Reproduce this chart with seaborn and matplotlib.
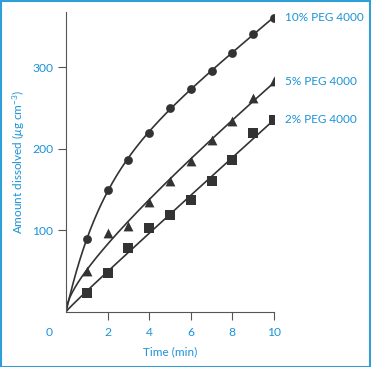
import matplotlib
matplotlib.use('Agg')
import matplotlib.pyplot as plt
import numpy as np
import pandas as pd
import seaborn as sns

time_min = [1, 2, 3, 4, 5, 6, 7, 8, 9, 10]
peg10 = [89, 150, 187, 220, 250, 274, 296, 318, 341, 361]
peg5 = [50, 97, 106, 135, 161, 185, 211, 234, 262, 283]
peg2 = [23, 48, 79, 103, 119, 137, 161, 186, 220, 236]
series_names = ['10% PEG 4000', '5% PEG 4000', '2% PEG 4000']
fit_models = ['exp', 'sqrt', 'sqrt']
x_ticks = [2, 4, 6, 8, 10]
y_ticks = [100, 200, 300]

blue = '#1a93d6'
dark = '#333333'

sns.set_style('ticks')
plt.rcParams['font.family'] = ['Lato', 'DejaVu Sans']
plt.rcParams['mathtext.fontset'] = 'custom'
plt.rcParams['mathtext.rm'] = 'Lato'
plt.rcParams['mathtext.it'] = 'Lato:italic'


def basis(t, model, k=1.0):
    if model == 'exp':
        return np.column_stack([t, 1 - np.exp(-k * t)])
    return np.column_stack([t, np.sqrt(t)])


def fit_curve(t, y, model):
    # least squares fit through the origin
    t = np.asarray(t, float)
    y = np.asarray(y, float)
    ks = np.linspace(0.05, 3, 300) if model == 'exp' else [1.0]
    best = None
    for k in ks:
        A = basis(t, model, k)
        coef = np.linalg.lstsq(A, y, rcond=None)[0]
        err = np.sum((A @ coef - y) ** 2)
        if best is None or err < best[0]:
            best = (err, k, coef)
    _, k, coef = best
    tt = np.linspace(0, t.max(), 300)
    return tt, basis(tt, model, k) @ coef


fig = plt.figure(figsize=(3.71, 3.67), dpi=100)
ax = fig.add_axes([66 / 371, 55 / 367, 208 / 371, 300 / 367])

markers = ['o', '^', 's']
sizes = [40, 50, 44]
for name, vals, m, s, model in zip(series_names, [peg10, peg5, peg2],
                                   markers, sizes, fit_models):
    tt, yy = fit_curve(time_min, vals, model)
    sns.lineplot(x=tt, y=yy, ax=ax, color=dark, linewidth=1.2)
    sns.scatterplot(x=time_min, y=vals, ax=ax, marker=m, s=s, color=dark,
                    edgecolor=dark, linewidth=0, zorder=3)
    ax.annotate(name, xy=(time_min[-1], vals[-1]), xytext=(11, 0),
                textcoords='offset pixels', va='center', ha='left',
                color=blue, fontsize=8.5, annotation_clip=False)

ax.set_xlim(0, 10)
ax.set_ylim(0, 368)
ax.set_xticks(x_ticks)
ax.set_yticks(y_ticks)
ax.tick_params(colors='#555555', labelcolor=blue, labelsize=8.7, length=6,
               width=0.8)
ax.tick_params(axis='x', pad=4.5)
ax.tick_params(axis='y', pad=3)
sns.despine(ax=ax)
for sp in ['left', 'bottom']:
    ax.spines[sp].set_color('#555555')
    ax.spines[sp].set_linewidth(0.8)

ax.annotate('0', xy=(0, 0), xytext=(-17, -20), textcoords='offset pixels',
            ha='center', va='center', color=blue, fontsize=8.7,
            annotation_clip=False)
ax.set_xlabel('Time (min)', color=blue, fontsize=8.5, labelpad=6)
ax.set_ylabel(r'Amount dissolved ($\mu$g cm$^{-3}$)', color=blue,
              fontsize=8.5, labelpad=4)

fig.patches.append(plt.Rectangle((0.5 / 371, 0.5 / 367), 1 - 1.5 / 371,
                                 1 - 1.5 / 367, transform=fig.transFigure,
                                 fill=False, edgecolor='#2f9fd8', linewidth=1.5))

fig.savefig('out.png', dpi=100)
